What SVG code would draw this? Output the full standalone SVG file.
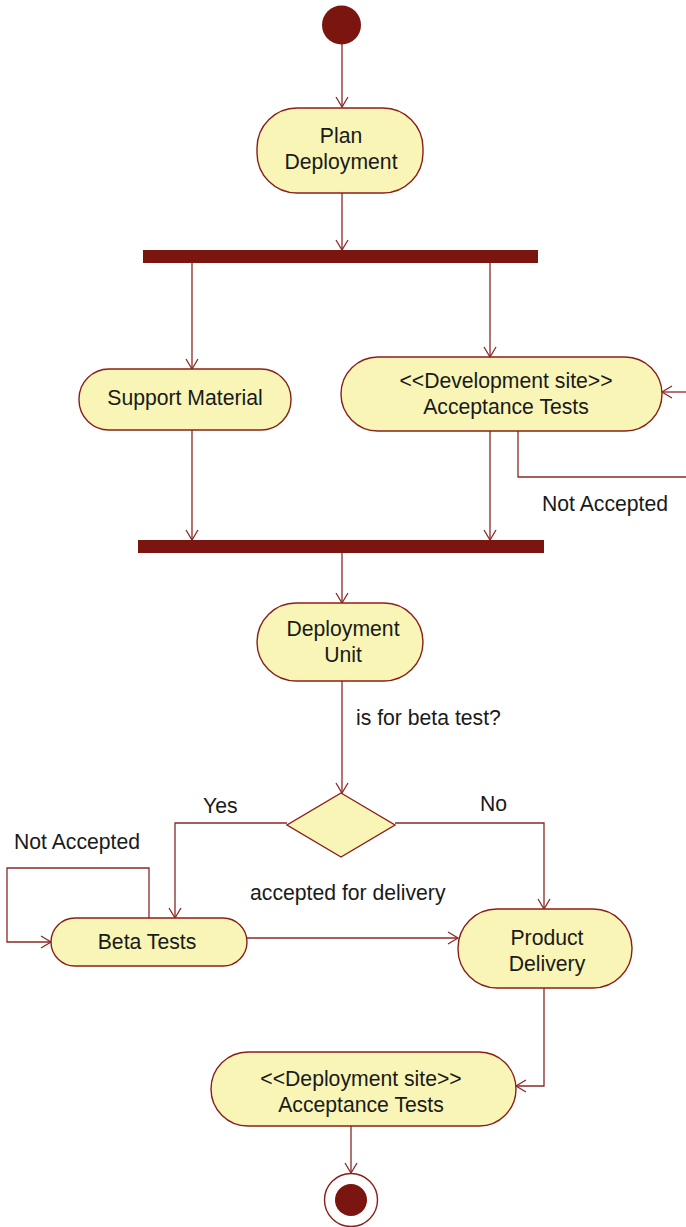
<svg xmlns="http://www.w3.org/2000/svg" width="686" height="1227" viewBox="0 0 686 1227">
  <defs>
    <style>
      .node { fill: #f8f5b6; stroke: #8a1f1a; stroke-width: 1.4; }
      .bar { fill: #7a1510; }
      .solid { fill: #7a1510; }
      .edge { fill: none; stroke: #8a2a26; stroke-width: 1.3; }
      text { font-family: "Liberation Sans", Arial, sans-serif; font-size: 21.2px; fill: #1a1a1a; }
      .c { text-anchor: middle; }
    </style>
    <marker id="arrow" markerWidth="14" markerHeight="14" refX="12" refY="7" orient="auto" markerUnits="userSpaceOnUse">
      <path d="M2,1 L12,7 L2,13" fill="none" stroke="#8a2a26" stroke-width="1.3"/>
    </marker>
  </defs>
  <rect width="686" height="1227" fill="#ffffff"/>

  <!-- connectors -->
  <g id="connectors">
    <path class="edge" d="M342,44 V107" marker-end="url(#arrow)"/>
    <path class="edge" d="M342,193 V250" marker-end="url(#arrow)"/>
    <path class="edge" d="M192,263 V369" marker-end="url(#arrow)"/>
    <path class="edge" d="M490,263 V357" marker-end="url(#arrow)"/>
    <path class="edge" d="M518,431 V477 H686"/>
    <path class="edge" d="M686,392 H662" marker-end="url(#arrow)"/>
    <path class="edge" d="M192,430 V540" marker-end="url(#arrow)"/>
    <path class="edge" d="M490,431 V540" marker-end="url(#arrow)"/>
    <path class="edge" d="M342,553 V603" marker-end="url(#arrow)"/>
    <path class="edge" d="M342,681 V793" marker-end="url(#arrow)"/>
    <path class="edge" d="M287,823 H175 V918" marker-end="url(#arrow)"/>
    <path class="edge" d="M395,823 H544 V909" marker-end="url(#arrow)"/>
    <path class="edge" d="M149,918 V868 H7 V942 H51" marker-end="url(#arrow)"/>
    <path class="edge" d="M247,938 H458" marker-end="url(#arrow)"/>
    <path class="edge" d="M544,988 V1086 H516" marker-end="url(#arrow)"/>
    <path class="edge" d="M351,1126 V1173" marker-end="url(#arrow)"/>
    <text x="542" y="511">Not Accepted</text>
    <text x="356" y="725">is for beta test?</text>
    <text x="203" y="813">Yes</text>
    <text x="480" y="811">No</text>
    <text x="14" y="849">Not Accepted</text>
    <text x="250" y="900">accepted for delivery</text>
  </g>

  <g id="start">
    <circle class="solid" cx="341.5" cy="25" r="19.5"/>
  </g>

  <g id="plan-deployment">
    <rect class="node" x="257" y="108" width="166" height="85" rx="40" ry="40"/>
    <text class="c" x="341" y="143">Plan</text>
    <text class="c" x="341" y="169">Deployment</text>
  </g>

  <g id="fork">
    <rect class="bar" x="143" y="250" width="395" height="13"/>
  </g>

  <g id="support-material">
    <rect class="node" x="79" y="369" width="212" height="61" rx="30" ry="30"/>
    <text class="c" x="185" y="405">Support Material</text>
  </g>

  <g id="dev-acceptance-tests">
    <rect class="node" x="341" y="357" width="321" height="74" rx="37" ry="37"/>
    <text class="c" x="506" y="388">&lt;&lt;Development site&gt;&gt;</text>
    <text class="c" x="506" y="414">Acceptance Tests</text>
  </g>

  <g id="join">
    <rect class="bar" x="138" y="540" width="406" height="13"/>
  </g>

  <g id="deployment-unit">
    <rect class="node" x="257" y="603" width="166" height="78" rx="39" ry="39"/>
    <text class="c" x="343" y="636">Deployment</text>
    <text class="c" x="343" y="662">Unit</text>
  </g>

  <g id="decision">
    <polygon class="node" points="341,793 395,825 341,857 287,825"/>
  </g>

  <g id="beta-tests">
    <rect class="node" x="51" y="918" width="196" height="48" rx="24" ry="24"/>
    <text class="c" x="147" y="949">Beta Tests</text>
  </g>

  <g id="product-delivery">
    <rect class="node" x="458" y="909" width="174" height="79" rx="39" ry="39"/>
    <text class="c" x="547" y="945">Product</text>
    <text class="c" x="547" y="971">Delivery</text>
  </g>

  <g id="deploy-acceptance-tests">
    <rect class="node" x="211" y="1052" width="305" height="74" rx="37" ry="37"/>
    <text class="c" x="361" y="1086">&lt;&lt;Deployment site&gt;&gt;</text>
    <text class="c" x="361" y="1112">Acceptance Tests</text>
  </g>

  <g id="end">
    <circle cx="351" cy="1200" r="26.5" fill="#ffffff" stroke="#8a1f1a" stroke-width="1.4"/>
    <circle class="solid" cx="351" cy="1200" r="16"/>
  </g>
</svg>
